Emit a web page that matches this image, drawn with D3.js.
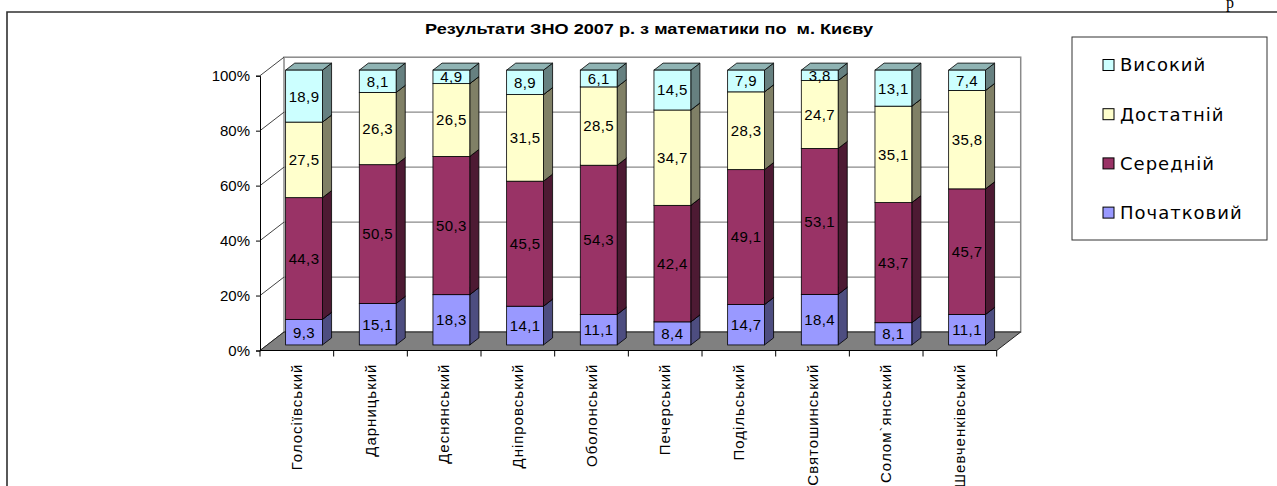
<!DOCTYPE html>
<html>
<head>
<meta charset="utf-8">
<script src="https://cdn.jsdelivr.net/npm/d3@7"></script>
<style>
  body { margin: 0; background: #fff; }
  text { font-family: "Liberation Sans", Arial, sans-serif; }
</style>
</head>
<body>
<svg id="chart" width="1277" height="486" viewBox="0 0 1277 486"></svg>
<script>
// districts of Kyiv
const categories = ["Голосіївський", "Дарницький", "Деснянський", "Дніпровський", "Оболонський",
    "Печерський", "Подільський", "Святошинський", "Солом`янський", "Шевченківський"];

const seriesNames = ["Початковий", "Середній", "Достатній", "Високий"];
const seriesColors = ["#9999FF", "#993366", "#FFFFCC", "#CCFFFF"];

const pochatkovyi = [9.3, 15.1, 18.3, 14.1, 11.1, 8.4, 14.7, 18.4, 8.1, 11.1];
const serednii = [44.3, 50.5, 50.3, 45.5, 54.3, 42.4, 49.1, 53.1, 43.7, 45.7];
const dostatnii = [27.5, 26.3, 26.5, 31.5, 28.5, 34.7, 28.3, 24.7, 35.1, 35.8];
const vysokyi = [18.9, 8.1, 4.9, 8.9, 6.1, 14.5, 7.9, 3.8, 13.1, 7.4];

const yTicks = [0, 0.2, 0.4, 0.6, 0.8, 1];

const svg = d3.select("#chart");

// table for d3.stack
let rows = categories.map(function(c, i) {
    return {cat: c, "Початковий": pochatkovyi[i], "Середній": serednii[i],
        "Достатній": dostatnii[i], "Високий": vysokyi[i]};
});
let stacked = d3.stack().keys(seriesNames).offset(d3.stackOffsetExpand)(rows);

let color = d3.scaleOrdinal().domain(seriesNames).range(seriesColors);

let locale = d3.formatLocale({decimal: ",", thousands: " ", grouping: [3], currency: ["", ""]});
let fmt = locale.format(".1f");

// plot area (front plane) and 3d depth
const plotLeft = 260, plotRight = 996.7, plotTop = 75.7, plotBottom = 350.5;
const DX = 24, DY = 18.5;
const z0 = 0.3, z1 = 0.68;   // bar front / back in depth

let x = d3.scaleBand().domain(categories).range([plotLeft, plotRight])
    .paddingInner(0.5).paddingOuter(0.25);
let y = d3.scaleLinear().domain([0, 1]).range([plotBottom, plotTop]);

// outer frame
svg.append("path")
    .attr("d", `M7,486 V12 H1277`)
    .attr("fill", "none")
    .attr("stroke", "#303030")
    .attr("stroke-width", 1.6);

svg.append("text")
    .attr("x", 1226).attr("y", 8)
    .style("font-family", "'Liberation Serif', serif")
    .style("font-size", "16px")
    .text("р");

// title
svg.append("text")
    .attr("x", 649).attr("y", 34)
    .attr("text-anchor", "middle")
    .attr("xml:space", "preserve")
    .attr("textLength", 448)
    .attr("lengthAdjust", "spacingAndGlyphs")
    .style("white-space", "pre")
    .style("font-weight", "bold")
    .style("font-size", "15px")
    .text("Результати ЗНО 2007 р. з математики по  м. Києву");

let walls = svg.append("g");

// back wall
walls.append("rect")
    .attr("x", plotLeft + DX).attr("y", y(1) - DY)
    .attr("width", plotRight - plotLeft).attr("height", y(0) - y(1))
    .attr("fill", "#fff")
    .attr("stroke", "#8a8a8a")
    .attr("stroke-width", 1.5);

// gridlines on back wall + side wall diagonals
walls.selectAll(".grid")
    .data(yTicks.filter(t => t > 0 && t < 1))
    .enter().append("line")
    .attr("x1", plotLeft + DX).attr("x2", plotRight + DX)
    .attr("y1", d => y(d) - DY).attr("y2", d => y(d) - DY)
    .attr("stroke", "#8a8a8a")
    .attr("stroke-width", 1.2);

walls.selectAll(".diag")
    .data(yTicks)
    .enter().append("line")
    .attr("x1", plotLeft).attr("x2", plotLeft + DX)
    .attr("y1", d => y(d)).attr("y2", d => y(d) - DY)
    .attr("stroke", "#444")
    .attr("stroke-width", 1);

// floor
walls.append("polygon")
    .attr("points", [[plotLeft, y(0)], [plotRight, y(0)], [plotRight + DX, y(0) - DY], [plotLeft + DX, y(0) - DY]].join(" "))
    .attr("fill", "#808080")
    .attr("stroke", "#222")
    .attr("stroke-width", 1);

// axes
let yAxis = svg.append("g")
    .attr("transform", `translate(${plotLeft},0)`)
    .call(d3.axisLeft(y).tickValues(yTicks).tickFormat(d3.format(".0%")).tickSize(4).tickPadding(6));
yAxis.select(".domain").attr("stroke", "#000");
yAxis.selectAll("text").style("font-size", "15px").attr("fill", "#000")
    .style("font-family", "'Liberation Sans', Arial, sans-serif");

let xAxis = svg.append("g");
xAxis.append("line")
    .attr("x1", plotLeft).attr("x2", plotRight)
    .attr("y1", y(0)).attr("y2", y(0))
    .attr("stroke", "#000");
xAxis.selectAll(".tk")
    .data(d3.range(categories.length + 1))
    .enter().append("line")
    .attr("x1", i => plotLeft + i * x.step()).attr("x2", i => plotLeft + i * x.step())
    .attr("y1", y(0)).attr("y2", y(0) + 6)
    .attr("stroke", "#000");
xAxis.selectAll(".lbl")
    .data(categories)
    .enter().append("text")
    .attr("transform", d => `translate(${x(d) + x.bandwidth() / 2 + 5},${y(0) + 13}) rotate(-90)`)
    .attr("text-anchor", "end")
    .style("font-size", "15px")
    .style("letter-spacing", "1px")
    .text(d => d);

// bars
let bw = x.bandwidth();
let ddx = (z1 - z0) * DX, ddy = (z1 - z0) * DY;

let bars = svg.append("g");
stacked.forEach(function(layer) {
    let c = d3.color(color(layer.key));
    let sideCol = d3.rgb(c.r * 0.5, c.g * 0.5, c.b * 0.5);
    let topCol = d3.rgb(c.r * 0.7, c.g * 0.7, c.b * 0.7);
    let g = bars.append("g").attr("class", "series");
    layer.forEach(function(d) {
        let x0 = x(d.data.cat) + z0 * DX;
        let x1 = x0 + bw;
        let yt = y(d[1]) - z0 * DY;
        let yb = y(d[0]) - z0 * DY;
        // side
        g.append("polygon")
            .attr("points", [[x1, yt], [x1 + ddx, yt - ddy], [x1 + ddx, yb - ddy], [x1, yb]].join(" "))
            .attr("fill", sideCol).attr("stroke", "#000").attr("stroke-width", 0.8);
        // top
        g.append("polygon")
            .attr("points", [[x0, yt], [x1, yt], [x1 + ddx, yt - ddy], [x0 + ddx, yt - ddy]].join(" "))
            .attr("fill", topCol).attr("stroke", "#000").attr("stroke-width", 0.8);
        // front
        g.append("rect")
            .attr("x", x0).attr("y", yt)
            .attr("width", bw).attr("height", yb - yt)
            .attr("fill", c).attr("stroke", "#000").attr("stroke-width", 0.8);
    });
});

// value labels
stacked.forEach(function(layer) {
    bars.append("g").selectAll("text")
        .data(layer)
        .enter().append("text")
        .attr("x", d => x(d.data.cat) + z0 * DX + bw / 2)
        .attr("y", d => (y(d[0]) + y(d[1])) / 2 - z0 * DY)
        .attr("dy", "0.36em")
        .attr("text-anchor", "middle")
        .style("font-size", "15px")
        .style("letter-spacing", "0.4px")
        .text(d => fmt(d.data[layer.key]));
});

// legend
let legend = svg.append("g");
legend.append("rect")
    .attr("x", 1072).attr("y", 37)
    .attr("width", 195).attr("height", 203)
    .attr("fill", "#fff")
    .attr("stroke", "#333");

let legendOrder = seriesNames.slice().reverse();
let item = legend.selectAll(".item")
    .data(legendOrder)
    .enter().append("g")
    .attr("transform", (d, i) => `translate(1103,${65 + i * 49.2})`);
item.append("rect")
    .attr("x", 0).attr("y", -5.5)
    .attr("width", 11).attr("height", 11)
    .attr("fill", d => color(d))
    .attr("stroke", "#000");
item.append("text")
    .attr("x", 17).attr("dy", "0.36em")
    .style("font-family", "'DejaVu Sans', sans-serif")
    .style("font-size", "18px")
    .style("letter-spacing", "1px")
    .text(d => d);
</script>
</body>
</html>
